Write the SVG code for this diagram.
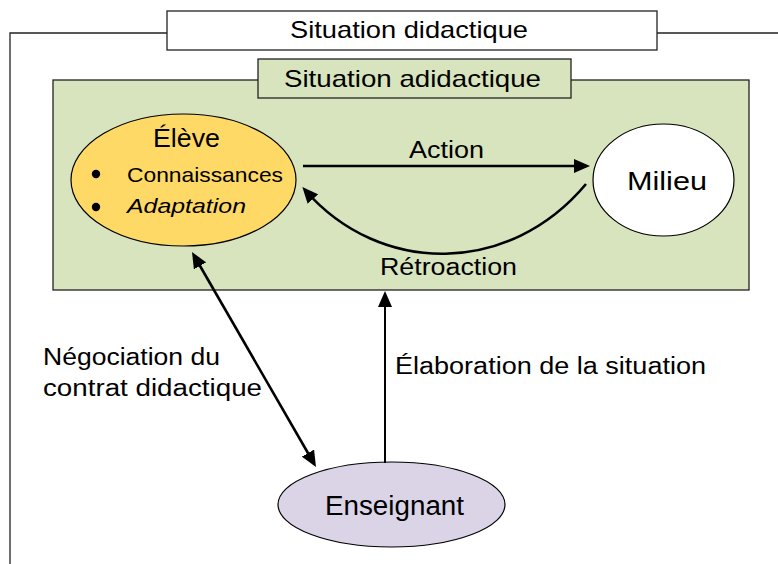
<svg xmlns="http://www.w3.org/2000/svg" width="778" height="564" viewBox="0 0 778 564">
<style>
text{font-family:"Liberation Sans",Arial,sans-serif;fill:#000}
.frame{fill:none;stroke:#222;stroke-width:1.3}
.box{stroke:#222;stroke-width:1.3}
.node{stroke:#000;stroke-width:1.2}
.arrow{fill:none;stroke:#000;stroke-width:2.6}
</style>
<defs>
<marker id="ah" viewBox="0 0 16 14" refX="12" refY="7" markerWidth="16" markerHeight="14" markerUnits="userSpaceOnUse" orient="auto-start-reverse">
<path d="M0,0 L16,7 L0,14 z" fill="#000"/>
</marker>
</defs>
<rect width="778" height="564" fill="#fff"/>
<g id="situation-didactique">
<path class="frame" d="M10,564 V33 H167 M657,33 H778"/>
<rect class="box" x="167" y="11" width="490" height="39" fill="#fff"/>
<text x="290" y="38" font-size="24" textLength="238" lengthAdjust="spacingAndGlyphs">Situation didactique</text>
</g>
<g id="situation-adidactique">
<rect class="box" x="53" y="80" width="696" height="210" fill="#D7E4BD"/>
<rect class="box" x="258" y="59" width="313" height="39" fill="#D7E4BD"/>
<text x="284" y="87" font-size="24" textLength="257" lengthAdjust="spacingAndGlyphs">Situation adidactique</text>
</g>
<g id="eleve">
<ellipse class="node" cx="183.5" cy="180" rx="112.5" ry="66" fill="#FFD966"/>
<text x="153" y="147" font-size="25" textLength="67" lengthAdjust="spacingAndGlyphs">Élève</text>
<circle cx="96" cy="174" r="4.2"/>
<circle cx="96" cy="207" r="4.2"/>
<text x="127" y="182" font-size="21" textLength="156" lengthAdjust="spacingAndGlyphs">Connaissances</text>
<text x="127" y="213" font-size="21" font-style="italic" textLength="119" lengthAdjust="spacingAndGlyphs">Adaptation</text>
</g>
<g id="milieu">
<ellipse class="node" cx="663.5" cy="180" rx="70.5" ry="56" fill="#fff"/>
<text x="627" y="190" font-size="26" textLength="80" lengthAdjust="spacingAndGlyphs">Milieu</text>
</g>
<g id="enseignant">
<ellipse class="node" cx="391.5" cy="504.5" rx="113.5" ry="42.5" fill="#DBD3E6"/>
<text x="325" y="515" font-size="27" textLength="139" lengthAdjust="spacingAndGlyphs">Enseignant</text>
</g>
<g id="connectors">
<line class="arrow" x1="303" y1="166" x2="586" y2="166" marker-end="url(#ah)"/>
<path class="arrow" d="M586,184 C510,275 381,277 305,190" marker-end="url(#ah)"/>
<line class="arrow" x1="194" y1="255.5" x2="314" y2="463.5" marker-start="url(#ah)" marker-end="url(#ah)"/>
<line class="arrow" x1="385" y1="463" x2="385" y2="295" marker-end="url(#ah)" style="stroke-width:2"/>
</g>
<g id="labels">
<text x="409" y="158" font-size="23" textLength="75" lengthAdjust="spacingAndGlyphs">Action</text>
<text x="380" y="275" font-size="23" textLength="137" lengthAdjust="spacingAndGlyphs">Rétroaction</text>
<text x="43" y="365" font-size="23" textLength="177" lengthAdjust="spacingAndGlyphs">Négociation du</text>
<text x="43" y="396" font-size="23" textLength="219" lengthAdjust="spacingAndGlyphs">contrat didactique</text>
<text x="395" y="374" font-size="23" textLength="311" lengthAdjust="spacingAndGlyphs">Élaboration de la situation</text>
</g>
</svg>
